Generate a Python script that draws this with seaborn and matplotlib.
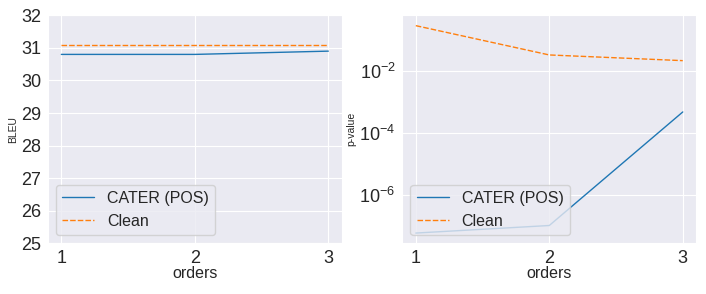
import matplotlib
matplotlib.use("Agg")
import matplotlib.pyplot as plt
import seaborn as sns
import pandas as pd

# Data
orders = [1, 2, 3]
bleu_cater = [30.8, 30.8, 30.9]
bleu_clean = [31.1, 31.1, 31.1]
p_cater = [6e-8, 1.05e-7, 4.7e-4]
p_clean = [0.28, 0.032, 0.021]
series_names = ["CATER (POS)", "Clean"]
bleu_ticks = [25, 26, 27, 28, 29, 30, 31, 32]

sns.set_style("darkgrid")
plt.rcParams['font.family'] = ['Liberation Sans', 'DejaVu Sans']

df_bleu = pd.DataFrame({"orders": orders * 2,
                        "value": bleu_cater + bleu_clean,
                        "method": [series_names[0]] * 3 + [series_names[1]] * 3})
df_p = pd.DataFrame({"orders": orders * 2,
                     "value": p_cater + p_clean,
                     "method": [series_names[0]] * 3 + [series_names[1]] * 3})

fig, axes = plt.subplots(1, 2, figsize=(7.06, 2.94), dpi=100)

for ax, df, ylab in [(axes[0], df_bleu, "BLEU"), (axes[1], df_p, "p-value")]:
    sns.lineplot(data=df, x="orders", y="value", hue="method", style="method",
                 linewidth=1, ax=ax)
    ax.set_xticks(orders)
    ax.set_xlabel("orders", fontsize=11.5, labelpad=-1)
    ax.set_ylabel(ylab, fontsize=7.5, labelpad=2)
    ax.tick_params(labelsize=13, pad=1.5)
    ax.legend(loc="lower left", fontsize=11.5, title=None)

axes[0].set_ylim(25, 32)
axes[0].set_yticks(bleu_ticks)
axes[1].set_yscale("log")

fig.subplots_adjust(left=0.068, right=0.986, top=0.948, bottom=0.172, wspace=0.207)
plt.savefig("out.png", dpi=100)
